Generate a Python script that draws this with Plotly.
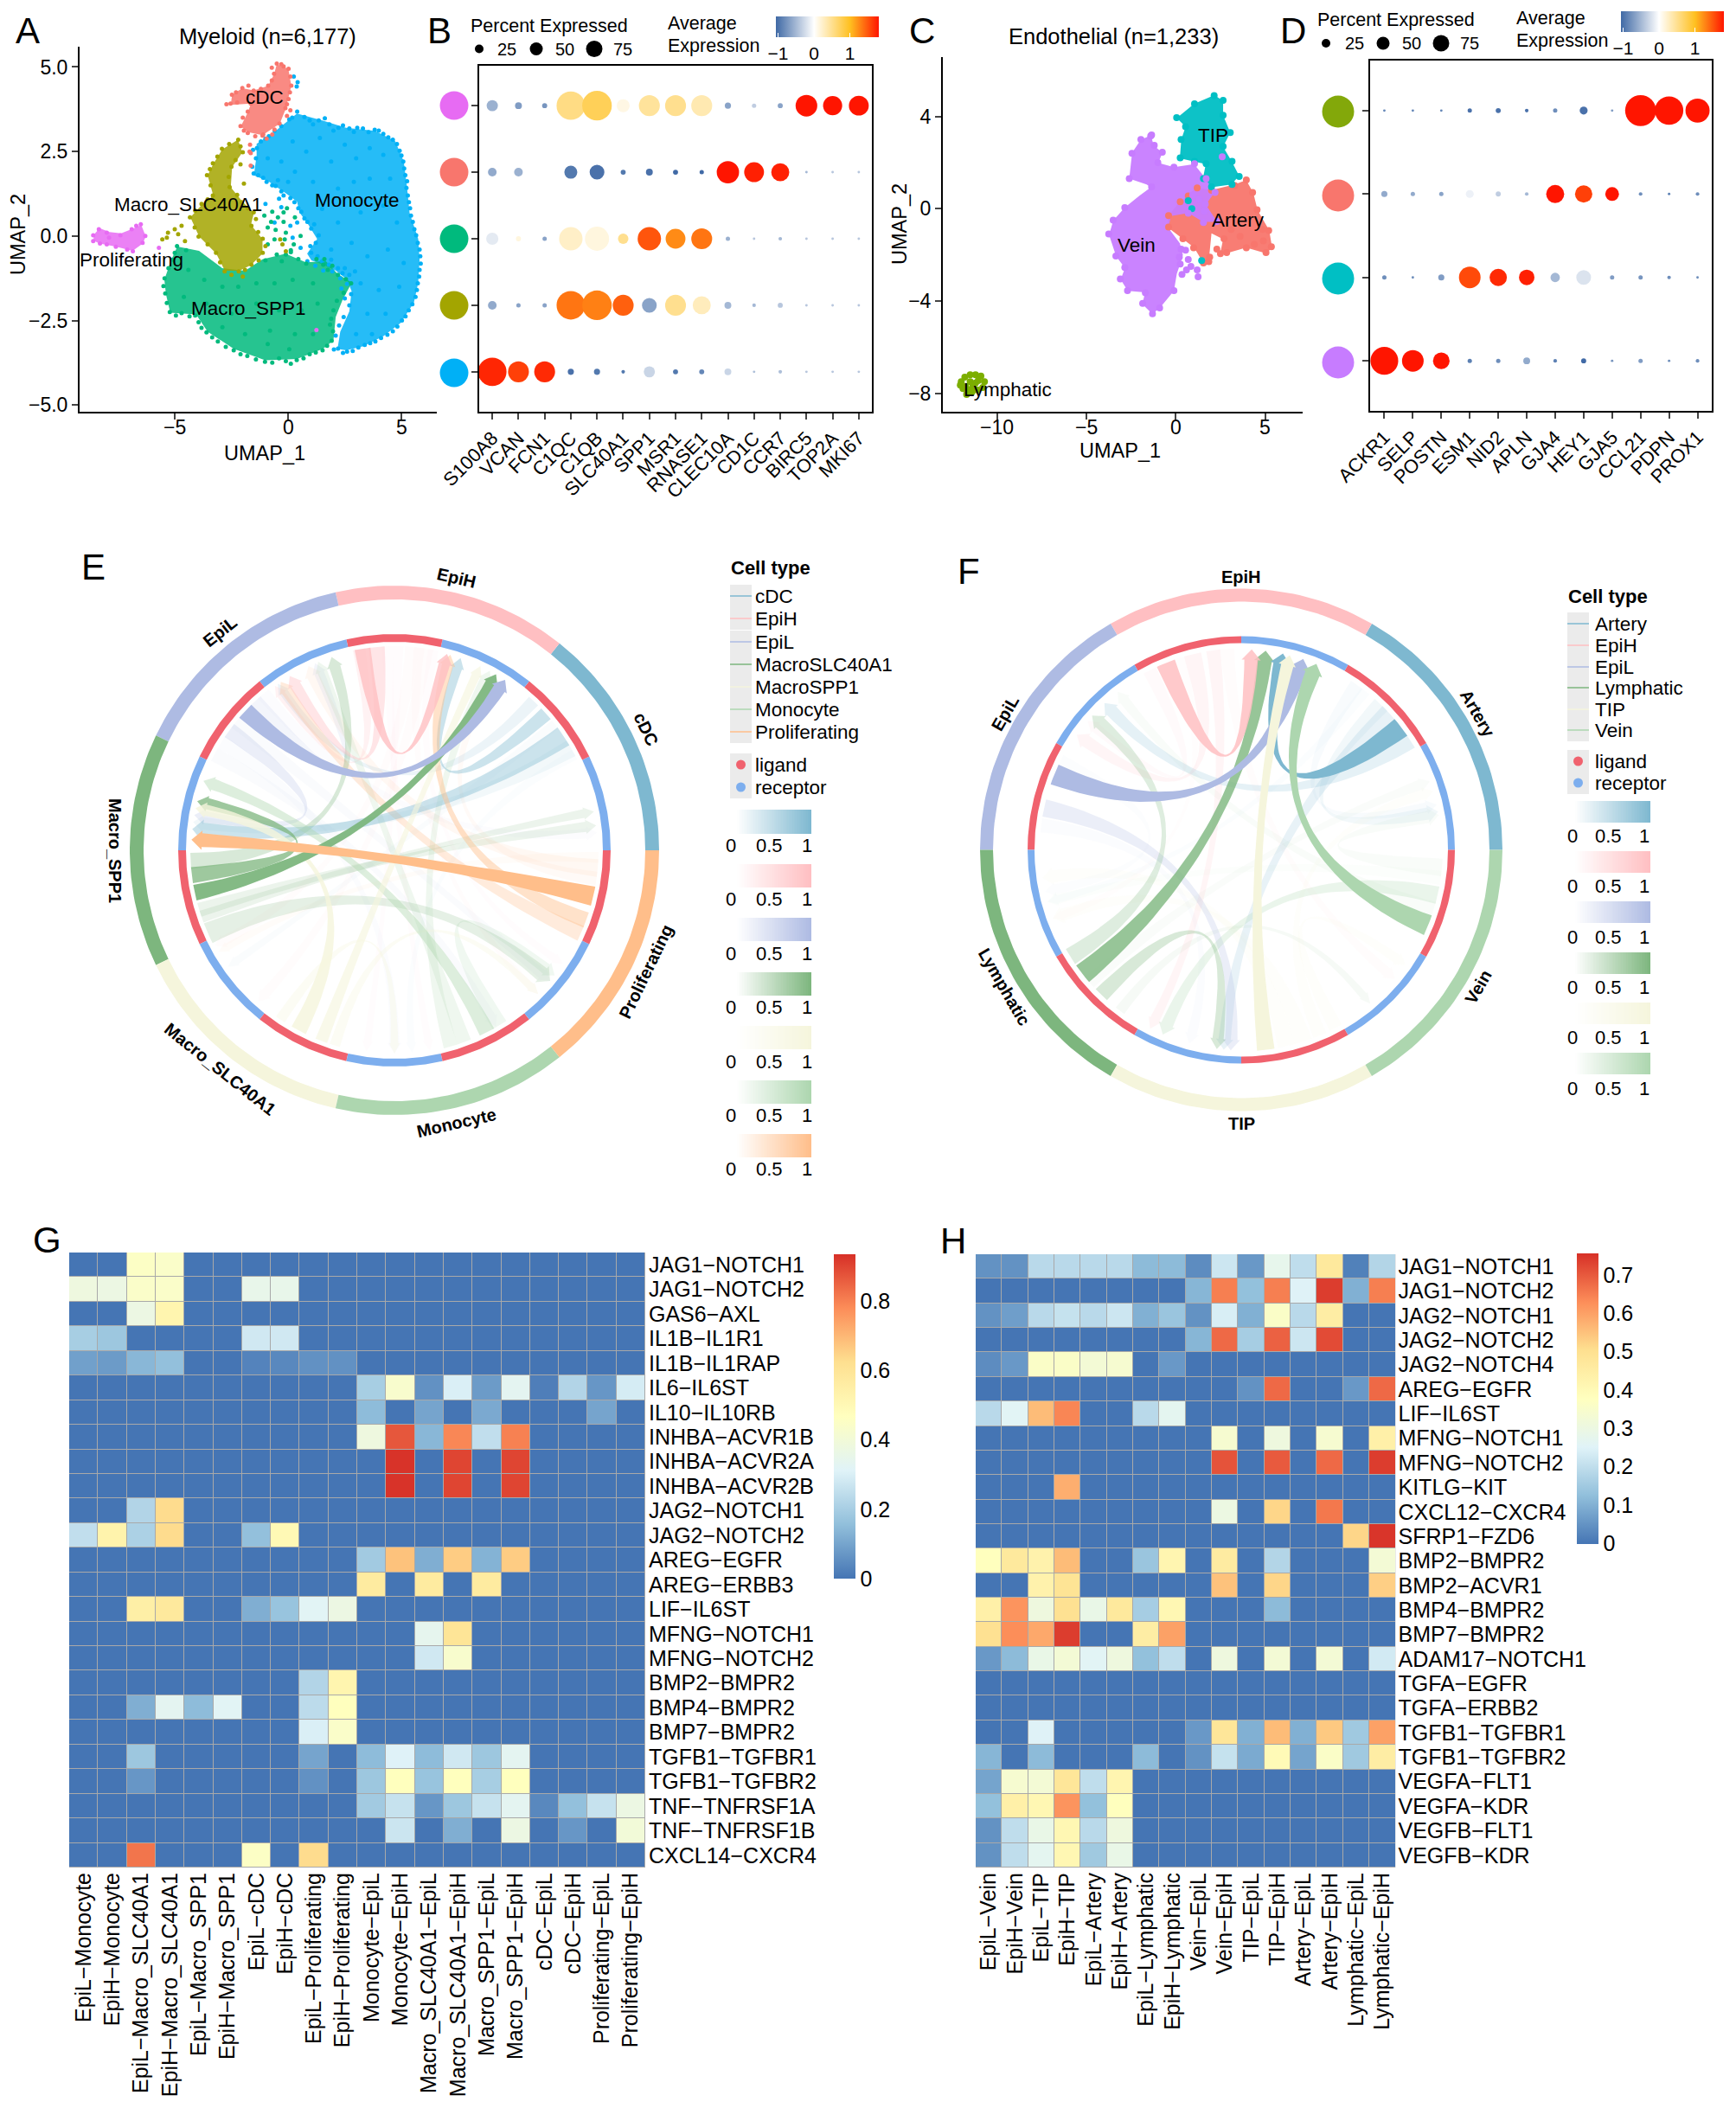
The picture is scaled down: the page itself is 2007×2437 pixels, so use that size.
import numpy as np
import plotly.graph_objects as go

W, H = 2007, 2437
FONT = "Liberation Sans"

# ---------- Panel A: Myeloid UMAP ----------
A_names = ["Monocyte", "Macro_SPP1", "Macro_SLC40A1", "cDC", "Proliferating"]
A_cols = {"Monocyte": "#00B0F6", "Macro_SPP1": "#00BA7D", "Macro_SLC40A1": "#A3A500", "cDC": "#F8766D", "Proliferating": "#E76BF3"}
A_outline = {
 "Monocyte": [(.39,3.62),(1.54,3.41),(2.56,3.2),(3.83,3.11),(4.72,2.81),(5.1,2.21),(5.23,1.53),(5.36,.68),(5.74,-.09),(5.8,-.69),(5.74,-1.38),(5.55,-1.97),(4.97,-2.57),(4.21,-2.96),(3.32,-3.26),(2.56,-3.38),(2.18,-3.34),(2.3,-2.83),(2.7,-2.23),(2.8,-1.63),(2.6,-1.29),(2.1,-1.02),(1.54,-.85),(1.03,-.72),(.84,-.52),(1.28,-.09),(.9,.33),(.52,.68),(.39,1.02),(-.11,1.27),(-.88,1.62),(-1.51,1.79),(-1.39,2.38),(-1.39,2.73),(-.62,3.07),(.01,3.41)],
 "Macro_SPP1": [(-4.89,-.31),(-3.93,-.44),(-2.91,-.95),(-1.9,-1.03),(-1.13,-.69),(-.11,-.52),(.78,-.78),(1.67,-.75),(2.18,-1.12),(2.81,-1.38),(2.4,-1.89),(2.1,-2.4),(2.0,-3.09),(1.54,-3.34),(.39,-3.64),(-1.01,-3.68),(-2.4,-3.34),(-3.55,-2.83),(-4.06,-2.32),(-5.2,-2.27),(-5.39,-1.72),(-5.46,-1.29),(-5.14,-.69)],
 "Macro_SLC40A1": [(-2.21,2.85),(-2.02,2.47),(-2.47,2.04),(-2.53,1.44),(-2.02,1.02),(-1.51,.68),(-1.64,.33),(-1.13,-.09),(-1.13,-.52),(-1.64,-.86),(-2.15,-1.03),(-2.79,-1.03),(-3.17,-.52),(-3.93,-.01),(-4.31,.55),(-3.8,.93),(-3.3,1.19),(-3.55,1.79),(-3.3,2.13),(-2.91,2.56)],
 "cDC": [(-.5,5.08),(.01,4.95),(.14,4.44),(.01,4.05),(-.11,3.75),(-.37,3.32),(-1.13,2.98),(-1.77,3.07),(-2.09,3.24),(-1.77,3.67),(-1.64,3.92),(-2.53,3.88),(-2.47,4.18),(-2.02,4.37),(-1.51,4.31),(-.88,4.44),(-.62,4.78)],
 "Proliferating": [(-8.58,.03),(-8.32,.23),(-7.88,.12),(-7.37,.08),(-6.86,.21),(-6.48,.33),(-6.28,-.01),(-6.41,-.22),(-6.86,-.44),(-7.62,-.31),(-8.32,-.22),(-8.58,-.14)],
}
A_points = {
 "Monocyte": [(.4,3.68),(.72,3.52),(1.1,3.3),(1.62,3.48),(2.0,3.12),(2.42,3.27),(2.9,3.08),(3.3,3.18),(3.82,3.14),(4.2,3.02),(4.62,2.85),(4.92,2.52),(5.08,2.2),(5.17,1.8),(5.22,1.42),(5.33,1.0),(5.42,.6),(5.57,.2),(5.72,-.2),(5.83,-.6),(5.8,-1.0),(5.72,-1.4),(5.62,-1.8),(5.32,-2.2),(5.02,-2.5),(4.62,-2.82),(4.1,-3.02),(3.62,-3.17),(3.1,-3.3),(2.6,-3.42),(2.2,-3.33),(-.6,3.12),(-1.0,2.88),(-1.38,2.6),(-1.42,2.3),(-1.52,1.85),(-1.1,1.72),(-.7,1.5),(-.3,1.32),(.1,1.12),(.45,.82),(.72,.52),(1.02,.22),(1.22,-.2),(1.02,-.5),(.85,-.75),(-.3,2.2),(.2,2.8),(.8,2.5),(1.4,2.9),(.3,1.9),(1.1,1.6),(1.9,2.2),(2.5,2.7),(3.0,2.3),(3.6,2.6),(4.2,2.4),(2.2,1.4),(2.9,1.6),(3.6,1.7),(4.5,1.7),(1.5,.8),(2.2,.4),(3.2,.7),(4.2,.9),(4.8,.4),(1.9,-.4),(2.8,-.2),(3.5,-.6),(4.4,-.4),(5.1,-.8),(3.2,-1.4),(4.0,-1.6),(4.9,-1.5),(3.5,-2.3),(4.3,-2.3),(3.0,-2.9),(3.7,-2.9),(-.9,2.3),(.0,1.6),(-1.0,.95),(-.3,.85),(.1,.3),(-.45,1.65),(.55,-.35),(.25,4.72),(.42,4.55),(.38,4.42),
   (.18,3.5),(.95,3.42),(1.35,3.42),(1.82,3.3),(2.22,3.2),(2.7,3.18),(3.05,3.2),(3.55,3.07),(4.0,3.12),(4.42,2.92),(4.8,2.72),(5.0,2.38),(5.12,2.0),(5.25,1.62),(5.28,1.2),(5.38,.82),(5.5,.42),(5.65,.02),(5.8,-.4),(5.85,-.82),(5.78,-1.2),(5.68,-1.6),(5.48,-2.02),(5.18,-2.38),(4.82,-2.68),(4.38,-2.92),(3.85,-3.12),(3.38,-3.22),(2.85,-3.4),(2.42,-3.46),(2.02,-3.36),(2.1,-2.95),(2.25,-2.65),(2.45,-2.4),(2.7,-2.05),(2.78,-1.72),(2.6,-1.42),(2.3,-1.25),(1.95,-1.05),(1.55,-1.02),(1.2,-.88),(.98,-.3),(1.35,.02),(1.15,.35),(.85,.42),(.58,.72),(.28,1.0),(-.2,1.2),(-.55,1.48),(-.95,1.6),(-1.32,1.8),(-1.58,2.05),(-1.55,2.55),(-1.2,2.8),(-.85,2.95),(-.3,3.25),(.05,3.45),(.2,-.05),(.4,.4),(-.4,1.1),(-.6,.4),
   (2.4,-1.1),(2.7,-1.15),(2.2,-.95),(1.8,-.85),(1.5,-.75),(2.5,-.95),(1.9,-.7),(1.3,-.6),(2.95,-1.05),(2.35,-1.55),(2.5,-1.85)],
 "Macro_SPP1": [(-4.9,-.3),(-4.5,-.42),(-5.1,-.7),(-5.45,-1.25),(-5.42,-1.7),(-5.22,-2.25),(-4.7,-2.28),(-4.1,-2.35),(-3.6,-2.85),(-3.1,-3.12),(-2.4,-3.38),(-1.8,-3.55),(-1.02,-3.72),(-.4,-3.62),(.38,-3.67),(.95,-3.5),(1.52,-3.38),(1.92,-3.1),(1.9,-2.45),(2.15,-1.92),(2.78,-1.4),(2.2,-1.15),(1.6,-.68),(.8,-.82),(-.1,-.55),(-.6,-.1),(-.9,.25),(-.45,.55),(-.05,.82),(.3,.55),(-.1,.1),(.25,-.25),(-.28,-.75),(.55,.0),(-1.05,.6),(-.7,.72),(-4.4,-1.0),(-3.7,-1.3),(-2.9,-1.5),(-2.2,-1.5),(-1.4,-1.4),(-.6,-1.4),(.2,-1.3),(1.1,-1.4),(-4.6,-1.8),(-3.6,-2.0),(-2.5,-2.3),(-1.4,-2.0),(-.4,-2.2),(.6,-2.2),(1.3,-2.0),(-2.9,-2.7),(-1.9,-2.9),(-.8,-2.8),(.3,-2.9),(1.1,-2.9),(-.9,-3.2),(.05,-3.35),(-.2,.42),(-.15,-.1),(1.55,-.85),(1.75,-1.0),
   (-5.0,-.5),(-5.28,-.95),(-5.5,-1.48),(-5.35,-1.98),(-4.95,-2.35),(-4.35,-2.38),(-3.95,-2.55),(-3.82,-2.72),(-3.35,-3.0),(-2.75,-3.28),(-2.1,-3.5),(-1.42,-3.65),(-.7,-3.75),(-.1,-3.7),(.12,-3.78),(.68,-3.62),(1.22,-3.45),(1.72,-3.25),(1.98,-2.82),(1.85,-2.62),(2.0,-2.2),(2.45,-1.68),(2.55,-1.28),(1.95,-.88),(1.25,-.68),(.45,-.68),(.12,-.48),(-.5,-.55),(-1.0,-.72),(-.55,.18),(-.2,.7),(.12,-.42),(-.75,.42),(-.9,-.25)],
 "Macro_SLC40A1": [(-2.2,2.85),(-2.0,2.48),(-2.5,2.05),(-2.58,1.45),(-2.05,1.0),(-1.52,.7),(-1.62,.3),(-1.12,-.08),(-1.12,-.5),(-1.62,-.85),(-2.18,-1.05),(-2.8,-1.05),(-3.18,-.5),(-3.95,-.02),(-4.33,.55),(-3.82,.95),(-3.32,1.2),(-3.58,1.8),(-3.32,2.15),(-2.92,2.58),(-5.0,.2),(-5.3,.1),(-5.55,-.1),(-4.7,.3),(-4.85,.05),(-5.35,-.05),(-.35,-.1),(-.25,-.25),(-.1,-.45),(-1.95,1.55),(-2.1,2.12),(-4.55,-.15),(-2.0,-1.2),
   (-2.1,2.65),(-2.32,2.25),(-2.62,1.75),(-2.25,1.22),(-1.78,.82),(-1.42,.5),(-1.32,.12),(-1.0,-.3),(-1.3,-.72),(-1.9,-1.0),(-2.5,-1.15),(-3.0,-.78),(-3.55,-.25),(-4.12,.25),(-4.1,.75),(-3.55,1.08),(-3.42,1.5),(-3.45,1.98),(-3.12,2.35),(-2.6,2.72)],
 "cDC": [(-.5,5.1),(-.2,5.02),(.02,4.95),(.14,4.45),(.02,4.05),(-.12,3.78),(-.38,3.33),(-1.13,2.97),(-1.78,3.05),(-2.1,3.25),(-1.78,3.68),(-1.65,3.92),(-2.72,3.9),(-2.54,3.92),(-2.48,4.18),(-2.02,4.38),(-1.52,4.3),(-.88,4.45),(-.62,4.8),(-1.7,2.5),(-1.68,2.7),(-1.65,2.08),(-1.65,2.45),(-1.1,3.0),(-.7,3.0),(.1,3.72),(-.05,3.9),
   (-.72,4.98),(-.3,5.08),(.1,4.72),(.08,4.25),(-.05,3.55),(-.6,3.15),(-.95,2.88),(-1.45,2.95),(-1.95,3.12),(-2.0,3.5),(-2.25,3.95),(-2.3,4.25),(-1.75,4.45),(-1.2,4.35),(-.72,4.6)],
 "Proliferating": [(-8.6,.02),(-8.35,.2),(-8.0,.1),(-7.9,-.05),(-7.4,.02),(-6.9,.2),(-6.5,.35),(-6.3,0),(-6.42,-.2),(-6.85,-.45),(-7.6,-.32),(-8.3,-.22),(-8.6,-.15),(-5.7,-.35),(1.25,-2.78),(-7.1,-.4),(-8.0,-.25),(-6.7,.3)],
}
A_label_xy = [(-1.03,4.1,"cDC"),(-4.43,.92,"Macro_SLC40A1"),(3.05,1.05,"Monocyte"),(-6.9,-.72,"Proliferating"),(-1.73,-2.15,"Macro_SPP1")]
A_xticks = [-5, 0, 5]

# ---------- Panel B ----------
B_genes = ["S100A8","VCAN","FCN1","C1QC","C1QB","SLC40A1","SPP1","MSR1","RNASE1","CLEC10A","CD1C","CCR7","BIRC5","TOP2A","MKI67"]
B_rows = ["Monocyte","Macro_SLC40A1","Macro_SPP1","cDC","Proliferating"]
B_pct = [
 [79,58,58,17,17,10,31,14,14,19,7,10,7,7,7],
 [24,12,12,79,82,58,41,58,50,19,10,14,7,7,7],
 [34,14,12,65,67,29,65,55,58,12,7,10,7,7,7],
 [24,24,0,36,41,14,19,14,12,62,55,50,7,7,7],
 [31,19,14,79,82,36,58,58,58,17,12,14,60,53,55]]
B_expr = [
 [1.72,1.6,1.7,-1,-.95,-.95,-.3,-.95,-.85,-.3,-.45,-.45,-.4,-.4,-.4],
 [-.6,-.65,-.65,1.35,1.3,1.45,-.65,.5,.3,-.5,-.5,-.4,-.4,-.4,-.4],
 [-.15,.15,-.65,.25,.15,.5,1.5,1.25,1.35,-.55,-.4,-.5,-.4,-.4,-.4],
 [-.6,-.55,0,-.95,-1.0,-.95,-1,-1.05,-1.05,1.8,1.75,1.75,-.5,-.4,-.4],
 [-.55,-.7,-.75,.55,.75,.12,.45,.5,.35,-.65,-.35,-.65,1.8,1.8,1.8]]

# ---------- Panel C ----------
C_names = ["Artery","TIP","Vein","Lymphatic"]
C_cols = {"Artery":"#F8766D","TIP":"#00BFC4","Vein":"#C77CFF","Lymphatic":"#7CAE00"}
C_outline = {
 "Artery":[(1.11,.93),(2.0,.81),(3.29,1.05),(3.94,1.24),(4.34,.68),(4.58,-.07),(5.23,-.94),(5.39,-1.69),(5.07,-1.94),(3.94,-1.69),(2.81,-1.94),(2.49,-1.94),(2.65,-1.32),(2.0,-1.07),(1.84,-2.32),(1.52,-2.32),(1.03,-1.69),(.39,-1.32),(-.42,-.82),(-.42,-.32),(.23,.31),(.71,.56)],
 "TIP":[(.06,3.93),(1.03,4.55),(2.16,4.92),(2.65,4.68),(2.65,4.05),(3.05,3.3),(2.65,2.68),(3.13,2.05),(3.54,1.43),(3.13,1.05),(2.0,.93),(1.52,1.3),(1.68,1.93),(1.03,2.05),(.23,2.18),(.31,2.99),(.55,3.55)],
 "Vein":[(-1.39,3.18),(-1.23,2.74),(-.74,2.43),(-.98,1.99),(-.1,1.8),(1.03,1.93),(1.68,1.3),(2.16,.68),(1.68,.18),(2.32,-.57),(1.52,-.57),(.71,-.19),(-.26,-.32),(-.42,-.82),(.23,-1.5),(.4,-2.0),(.2,-2.5),(.06,-2.82),(-.1,-3.56),(-.9,-4.31),(-1.31,-4.56),(-1.87,-4.13),(-1.71,-3.63),(-2.68,-3.56),(-3.08,-3.07),(-2.84,-2.57),(-3.33,-2.07),(-3.73,-1.13),(-3.49,-.51),(-2.84,.06),(-2.03,.56),(-1.39,.93),(-1.63,1.05),(-2.6,1.3),(-2.44,2.43),(-1.95,2.99)],
}
C_points = {
 "Artery":[(1.2,.9),(2.0,.8),(3.3,1.0),(3.95,1.25),(4.3,.7),(4.55,-.05),(5.2,-.95),(5.35,-1.65),(5.05,-1.9),(3.95,-1.7),(2.85,-1.9),(2.5,-1.95),(2.7,-1.3),(1.85,-2.3),(1.55,-2.35),(1.0,-1.7),(.4,-1.3),(-.4,-.8),(-.4,-.3),(.25,.3),(.7,.55),(4.85,-.9),(4.9,-1.4),(3.1,-.9),(3.6,-1.2),(2.3,-1.75),(1.9,-2.1),(4.4,-1.55)],
 "TIP":[(.05,3.95),(1.05,4.55),(2.15,4.9),(2.65,4.7),(2.65,4.05),(3.05,3.3),(2.65,2.7),(3.15,2.05),(3.55,1.4),(3.15,1.05),(2.0,.95),(1.55,1.3),(1.7,1.95),(1.05,2.05),(.25,2.2),(.3,3.0),(.55,3.55),(.7,.35),(.9,-.0),(1.45,-2.25)],
 "Vein":[(-1.35,3.2),(-1.2,2.75),(-.75,2.45),(-1.0,2.0),(-.1,1.8),(1.05,1.95),(1.7,1.3),(2.2,.7),(1.65,.2),(2.3,-.55),(1.55,-.6),(.7,-.2),(.3,-1.75),(.55,-1.8),(.2,-2.1),(.25,-2.4),(.7,-2.2),(.85,-2.5),(1.2,-2.65),(.35,-2.85),(.6,-2.65),(1.25,-2.95),(-.1,-3.55),(-.9,-4.3),(-1.3,-4.55),(-1.85,-4.1),(-1.7,-3.65),(-2.7,-3.55),(-3.1,-3.05),(-2.85,-2.55),(-3.35,-2.05),(-3.75,-1.1),(-3.5,-.5),(-2.85,.05),(-1.35,.95),(-2.6,1.3),(-2.45,2.4),(-1.95,3.0),(-1.4,3.15),(2.6,2.25),(1.3,.4),(1.6,-.1),(.95,.6)],
 "Lymphatic":[(-12.0,-7.5),(-11.8,-7.3),(-11.5,-7.2),(-11.2,-7.2),(-10.9,-7.25),(-10.7,-7.5),(-10.8,-7.75),(-11.1,-7.85),(-11.4,-7.95),(-11.7,-8.05),(-11.9,-7.8),(-12.05,-7.65),(-11.5,-7.5),(-11.2,-7.55),(-11.75,-7.7),(-11.6,-7.85),(-11.35,-7.7),(-11.05,-7.45)],
}
C_label_xy = [(2.09,3.16,"TIP"),(3.5,-.5,"Artery"),(-2.2,-1.6,"Vein"),(-9.4,-7.86,"Lymphatic")]
C_xticks = [-10, -5, 0, 5]

# ---------- Panel D ----------
D_genes = ["ACKR1","SELP","POSTN","ESM1","NID2","APLN","GJA4","HEY1","GJA5","CCL21","PDPN","PROX1"]
D_rows = ["Vein","TIP","Artery","Lymphatic"]
D_pct = [
 [77,60,46,12,12,19,10,14,7,12,7,10],
 [12,7,17,60,48,43,26,41,12,12,10,7],
 [17,12,12,22,14,10,50,48,38,10,7,10],
 [7,7,7,12,14,10,12,22,7,86,79,67]]
D_expr = [
 [1.8,1.8,1.8,-.9,-.8,-.6,-.9,-1.05,-.75,-.7,-.8,-.8],
 [-.8,-.8,-.7,1.55,1.7,1.75,-.5,-.2,-.7,-.75,-.8,-.8],
 [-.6,-.6,-.65,-.1,-.35,-.5,1.8,1.6,1.8,-.8,-.9,-.8],
 [-.85,-.85,-.85,-1,-1,-1,-.8,-1,-.7,1.8,1.8,1.8]]

# ---------- Panels E, F: chord diagrams ----------
E_sectors = ["cDC","EpiH","EpiL","Macro_SPP1","Macro_SLC40A1","Monocyte","Proliferating"]
E_cols = ["#7EB8D0","#FFBFC2","#AEBBE3","#7DB67E","#F5F5DC","#ADD6AF","#FFBE8A"]
E_legend = ["cDC","EpiH","EpiL","MacroSLC40A1","MacroSPP1","Monocyte","Proliferating"]
# ligand angle, receptor angle, width, strength
E_links = [
 (99,75,4.5,.8),(95,121,4.5,.4),(100,126,3.5,.2),(85,208,4,.05),(81,228,4,.05),(89,262,3,.04),(92,280,3,.04),(83,315,3,.05),(79,326,3,.04),
 (137,57,5,1),(144,170,4.5,.25),(133,113,4,.15),(148,270,4,.05),(152,300,4,.06),(141,320,4,.06),(130,5,4,.04),
 (42,71,4,.4),(34,174,6,.4),(30,172,5,.1),(47,125,3.5,.15),(38,215,3,.04),(28,275,3,.03),
 (347,177,5.5,1),(340,74,4.5,.45),(336,124,4.5,.3),(355,115,5,.1),(358,210,3,.05),(352,60,4,.07),
 (192,60,4.5,.95),(187,166,4.5,.75),(183,108,4.5,.3),(197,7,4,.15),(199,11,3.5,.15),(204,320,6,.2),
 (242,168,4.5,.8),(249,65,3.5,.6),(236,270,3,.3),(253,315,3,.3),
 (297,160,4.5,.42),(290,112,4,.2),(286,62,4,.2),(301,322,4.5,.18)]

F_sectors = ["Artery","EpiH","EpiL","Lymphatic","TIP","Vein"]
F_cols = ["#7EB8D0","#FFBFC2","#AEBBE3","#7DB67E","#F5F5DC","#ADD6AF"]
F_legend = ["Artery","EpiH","EpiL","Lymphatic","TIP","Vein"]
F_links = [
 (37.5,78,6,1),(33,133,5,.2),(43,265,5,.18),(52,195,3,.03),(55,13,4,.05),(46,11,5,.1),
 (112,87,5.5,.85),(104,145,5,.15),(98,243,4,.15),(94,320,4,.05),(117,140,4,.07),(108,200,3,.03),
 (158,72,6,1),(168,267,5,.25),(173,255,4,.05),(154,192,4,.03),
 (218,83,6,.8),(212,138,5,.25),(226,263,4.5,.3),(233,310,3,.07),(221,20,4,.04),
 (277,76,5,1),(283,188,5,.1),(288,200,5,.1),(293,17,4,.1),(298,325,4,.1),
 (338,68,6,1),(347,247,5,.25),(355,10,5,.07),(343,128,4,.07),(352,195,4,.03)]

# ---------- Panels G, H: heatmaps ----------
G_cols = ["EpiL−Monocyte","EpiH−Monocyte","EpiL−Macro_SLC40A1","EpiH−Macro_SLC40A1","EpiL−Macro_SPP1","EpiH−Macro_SPP1","EpiL−cDC","EpiH−cDC","EpiL−Proliferating","EpiH−Proliferating","Monocyte−EpiL","Monocyte−EpiH","Macro_SLC40A1−EpiL","Macro_SLC40A1−EpiH","Macro_SPP1−EpiL","Macro_SPP1−EpiH","cDC−EpiL","cDC−EpiH","Proliferating−EpiL","Proliferating−EpiH"]
G_rows = ["JAG1−NOTCH1","JAG1−NOTCH2","GAS6−AXL","IL1B−IL1R1","IL1B−IL1RAP","IL6−IL6ST","IL10−IL10RB","INHBA−ACVR1B","INHBA−ACVR2A","INHBA−ACVR2B","JAG2−NOTCH1","JAG2−NOTCH2","AREG−EGFR","AREG−ERBB3","LIF−IL6ST","MFNG−NOTCH1","MFNG−NOTCH2","BMP2−BMPR2","BMP4−BMPR2","BMP7−BMPR2","TGFB1−TGFBR1","TGFB1−TGFBR2","TNF−TNFRSF1A","TNF−TNFRSF1B","CXCL14−CXCR4"]
G_vals = [
 [0,0,.45,.44,0,0,0,0,0,0,0,0,0,0,0,0,0,0,0,0],
 [.38,.37,.44,.44,0,0,.35,.35,0,0,0,0,0,0,0,0,0,0,0,0],
 [0,0,.37,.52,0,0,0,0,0,0,0,0,0,0,0,0,0,0,0,0],
 [.2,.18,0,0,0,0,.28,.28,0,0,0,0,0,0,0,0,0,0,0,0],
 [.09,.08,.14,.16,0,0,.03,.04,.06,.06,0,0,0,0,0,0,0,0,0,0],
 [0,0,0,0,0,0,0,0,0,0,.2,.43,.06,.3,.08,.33,.02,.22,.07,.29],
 [0,0,0,0,0,0,0,0,0,0,.15,0,.1,0,.11,0,0,0,.1,0],
 [0,0,0,0,0,0,0,0,0,0,.38,.87,.14,.79,.25,.8,0,0,0,0],
 [0,0,0,0,0,0,0,0,0,0,0,.93,0,.9,0,.9,0,0,0,0],
 [0,0,0,0,0,0,0,0,0,0,0,.93,0,.9,0,.9,0,0,0,0],
 [0,0,.22,.63,0,0,0,0,0,0,0,0,0,0,0,0,0,0,0,0],
 [.25,.53,.21,.63,0,0,.16,.5,0,0,0,0,0,0,0,0,0,0,0,0],
 [0,0,0,0,0,0,0,0,0,0,.19,.68,.12,.66,.13,.66,0,0,0,0],
 [0,0,0,0,0,0,0,0,0,0,.57,0,.57,0,.57,0,0,0,0,0],
 [0,0,.55,.58,0,0,.12,.17,.32,.37,0,0,0,0,0,0,0,0,0,0],
 [0,0,0,0,0,0,0,0,0,0,0,0,.34,.6,0,0,0,0,0,0],
 [0,0,0,0,0,0,0,0,0,0,0,0,.28,.43,0,0,0,0,0,0],
 [0,0,0,0,0,0,0,0,.22,.52,0,0,0,0,0,0,0,0,0,0],
 [0,0,.12,.33,.15,.32,0,0,.24,.47,0,0,0,0,0,0,0,0,0,0],
 [0,0,0,0,0,0,0,0,.3,.44,0,0,0,0,0,0,0,0,0,0],
 [0,0,.18,0,0,0,0,0,.1,0,.15,.31,.15,.28,.18,.33,0,0,0,0],
 [0,0,.07,0,0,0,0,0,.06,0,.18,.47,.17,.47,.2,.47,0,0,0,0],
 [0,0,0,0,0,0,0,0,0,0,.19,.26,.07,.18,.26,.33,.04,.16,.26,.37],
 [0,0,0,0,0,0,0,0,0,0,0,.27,0,.12,0,.37,0,.07,0,.4],
 [0,0,.82,0,0,0,.45,0,.63,0,0,0,0,0,0,0,0,0,0,0]]

H_cols = ["EpiL−Vein","EpiH−Vein","EpiL−TIP","EpiH−TIP","EpiL−Artery","EpiH−Artery","EpiL−Lymphatic","EpiH−Lymphatic","Vein−EpiL","Vein−EpiH","TIP−EpiL","TIP−EpiH","Artery−EpiL","Artery−EpiH","Lymphatic−EpiL","Lymphatic−EpiH"]
H_rows = ["JAG1−NOTCH1","JAG1−NOTCH2","JAG2−NOTCH1","JAG2−NOTCH2","JAG2−NOTCH4","AREG−EGFR","LIF−IL6ST","MFNG−NOTCH1","MFNG−NOTCH2","KITLG−KIT","CXCL12−CXCR4","SFRP1−FZD6","BMP2−BMPR2","BMP2−ACVR1","BMP4−BMPR2","BMP7−BMPR2","ADAM17−NOTCH1","TGFA−EGFR","TGFA−ERBB2","TGFB1−TGFBR1","TGFB1−TGFBR2","VEGFA−FLT1","VEGFA−KDR","VEGFB−FLT1","VEGFB−KDR"]
H_vals = [
 [.05,.05,.19,.19,.19,.19,.12,.12,.04,.22,.06,.28,.2,.47,.02,.18],
 [0,0,0,0,0,0,0,0,.11,.65,.13,.65,.25,.74,.1,.65],
 [.05,.07,.19,.21,.19,.22,.1,.14,.05,.24,.1,.36,.19,.45,0,0],
 [0,0,0,0,0,0,0,0,.11,.68,.16,.69,.22,.72,0,0],
 [.04,.06,.36,.36,.33,.34,0,.06,0,0,0,0,0,0,0,0],
 [0,0,0,0,0,0,0,0,0,0,.05,.68,0,0,.06,.68],
 [.19,.26,.56,.64,0,0,.19,.27,0,0,0,0,0,0,0,0],
 [0,0,0,0,0,0,0,0,0,.34,0,.31,0,.34,0,.44],
 [0,0,0,0,0,0,0,0,0,.71,0,.7,0,.68,0,.74],
 [0,0,0,.58,0,0,0,0,0,0,0,0,0,0,0,0],
 [0,0,0,0,0,0,0,0,0,.3,0,.52,0,.66,0,0],
 [0,0,0,0,0,0,0,0,0,0,0,0,0,0,.52,.75],
 [.38,.47,.43,.56,0,0,.14,.42,0,.46,0,.18,0,0,0,.33],
 [0,0,.43,.49,0,0,0,0,0,.55,0,.52,0,0,0,.53],
 [.44,.62,.31,.5,.29,.47,.16,.41,0,0,0,.12,0,0,0,0],
 [.5,.63,.59,.74,0,0,.45,.6,0,0,0,0,0,0,0,0],
 [.06,.12,.29,.33,.26,.31,.13,.2,0,.31,0,.33,0,.33,0,.23],
 [0]*16,
 [0]*16,
 [0,0,.25,0,0,0,0,0,.06,.48,.1,.56,.1,.54,.15,.6],
 [.11,0,.12,0,0,0,.12,0,.05,.21,.09,.4,.08,.36,.15,.45],
 [.08,.34,.33,.48,.2,.42,0,0,0,0,0,0,0,0,0,0],
 [.13,.44,.41,.62,.13,.38,0,0,0,0,0,0,0,0,0,0],
 [.05,.2,.29,.41,.19,.31,0,0,0,0,0,0,0,0,0,0],
 [.05,.2,.27,.41,.15,.29,0,0,0,0,0,0,0,0,0,0]]

# ---------- helpers ----------
def dx(a, b): return [a / W, b / W]
def dy(top, bottom): return [1 - bottom / H, 1 - top / H]

fig = go.Figure()
annots, shapes = [], []

def txt(x, y, s, size=22, anchor="center", bold=False, angle=0, ref=("x9", "y9")):
    annots.append(dict(x=x, y=y, xref=ref[0], yref=ref[1], text=f"<b>{s}</b>" if bold else s, showarrow=False,
                       font=dict(family=FONT, size=size, color="black"), xanchor=anchor, yanchor="middle",
                       textangle=angle, align="left"))

RDYLBU = [[0, "#4575B4"], [1/6, "#91BFDB"], [2/6, "#E0F3F8"], [3/6, "#FFFFBF"], [4/6, "#FEE090"], [5/6, "#FC8D59"], [1, "#D73027"]]
DOTSCALE = [[0, "#3F69A5"], [.3706, "#FFFFFF"], [.7203, "#FFC020"], [1, "#FF1500"]]

def rgba(hexcol, a):
    h = hexcol.lstrip("#")
    return f"rgba({int(h[:2],16)},{int(h[2:4],16)},{int(h[4:],16)},{a})"

def umap(outline, points, cols, order, size, xa, ya, fill_alpha):
    for n in order:
        if n in outline:
            px, py = zip(*outline[n])
            fig.add_trace(go.Scatter(x=list(px)+[px[0]], y=list(py)+[py[0]], mode="lines", fill="toself",
                                     fillcolor=rgba(cols[n], fill_alpha), line=dict(width=0), xaxis=xa, yaxis=ya,
                                     hoverinfo="skip", showlegend=False))
    for n in order:
        px, py = zip(*points[n])
        fig.add_trace(go.Scatter(x=px, y=py, mode="markers", marker=dict(size=size, color=cols[n], opacity=1), xaxis=xa, yaxis=ya,
                                 name=n, showlegend=False))

umap(A_outline, A_points, A_cols, A_names, 5, "x", "y", .85)
umap(C_outline, C_points, C_cols, C_names, 8, "x3", "y3", .95)
for x, y, s in A_label_xy: txt(x, y, s, 22.5, ref=("x", "y"))
for x, y, s in C_label_xy: txt(x, y, s, 22.5, ref=("x3", "y3"))
for v in A_xticks: txt(v, 494, str(v).replace("-", "−"), 23, ref=("x", "y9"))
for v in C_xticks: txt(v, 494, str(v).replace("-", "−"), 23, ref=("x3", "y9"))

def dotplot(genes, rows, pct, expr, xa, ya, cbx, cby, cblen):
    xs, ys, ss, cs = [], [], [], []
    for i, r in enumerate(rows):
        for j, g in enumerate(genes):
            if pct[i][j] > 0:
                xs.append(g); ys.append(r); ss.append(pct[i][j] / 2.4); cs.append(expr[i][j])
    fig.add_trace(go.Scatter(x=xs, y=ys, mode="markers", xaxis=xa, yaxis=ya, showlegend=False,
        marker=dict(size=ss, sizemode="diameter", opacity=1, color=cs, colorscale=DOTSCALE, cmin=-1.06, cmax=1.8, line=dict(width=0),
                    colorbar=dict(orientation="h", x=cbx/W, xanchor="left", y=1-cby/H, yanchor="top", lenmode="pixels", len=cblen,
                                  thickness=24, thicknessmode="pixels", xpad=0, ypad=0, tickvals=[-1, 0, 1], ticktext=["−1", "0", "1"],
                                  ticks="inside", ticklen=5, tickcolor="white", outlinewidth=0,
                                  tickfont=dict(family=FONT, size=21)))))

dotplot(B_genes, B_rows, B_pct, B_expr, "x2", "y2", 897, 19, 119)
dotplot(D_genes, D_rows, D_pct, D_expr, "x4", "y4", 1874, 13, 119)

def ov_markers(x, y, size, color, name=None):
    fig.add_trace(go.Scatter(x=x, y=y, mode="markers", xaxis="x9", yaxis="y9", showlegend=False, hoverinfo="skip",
                             marker=dict(size=size, color=color, opacity=1, line=dict(width=0))))

ov_markers([525]*5, [122, 199, 276, 353, 431], 33, ["#E76BF3", "#F8766D", "#00BA7D", "#A3A500", "#00B0F6"])
ov_markers([1547]*4, [129, 226, 322, 419], 37, ["#83A80A", "#F8766D", "#00BFC4", "#C77CFF"])
ov_markers([554, 620, 687], [56.5]*3, [10, 15, 19], "black")
ov_markers([1533, 1599, 1666], [50]*3, [10, 15, 19], "black")
txt(542, 30, "Percent Expressed", 21.5, "left")
for x, s in [(586, "25"), (653, "50"), (720, "75")]: txt(x, 57, s, 20)
txt(770, 27, "Average", 21.5, "left"); txt(770, 53, "Expression", 21.5, "left")
txt(1521, 23, "Percent Expressed", 21.5, "left")
for x, s in [(1566, "25"), (1632, "50"), (1699, "75")]: txt(x, 50, s, 20)
txt(1751, 21, "Average", 21.5, "left"); txt(1751, 47, "Expression", 21.5, "left")

def arc(a0, a1, r0, r1):
    t = np.radians(np.linspace(a0, a1, 40))
    return (np.r_[r1*np.cos(t), r0*np.cos(t[::-1])], np.r_[r1*np.sin(t), r0*np.sin(t[::-1])])

def bez(a0, r0, a1, r1):
    t = np.linspace(0, 1, 40)[:, None]
    p0 = r0*np.array([np.cos(np.radians(a0)), np.sin(np.radians(a0))])
    p1 = r1*np.array([np.cos(np.radians(a1)), np.sin(np.radians(a1))])
    return (1-t)**2*p0 + t**2*p1

def chord(sectors, cols, links, xa, ya, Ro, Ri, rr, rl):
    n = len(sectors); step = 360/n
    lnk = sorted(links, key=lambda l: l[3])
    for L, R, w, s in lnk:
        col = cols[int(L // step)]
        R2 = L + ((R - L) % 360)
        wr = w*.75
        rb = rl - 13; rt = rl - 1
        a = np.radians(np.linspace(L-w/2, L+w/2, 8))
        pts = [np.c_[rl*np.cos(a), rl*np.sin(a)]]
        pts.append(bez(L+w/2, rl, R2-wr/2, rb))
        hd = np.radians([R2-wr*.7, R2, R2+wr*.7])
        pts.append(np.c_[np.array([rb, rt, rb])*np.cos(hd), np.array([rb, rt, rb])*np.sin(hd)])
        pts.append(bez(R2+wr/2, rb, L-w/2, rl))
        P = np.vstack(pts)
        fig.add_trace(go.Scatter(x=P[:, 0], y=P[:, 1], mode="lines", fill="toself", fillcolor=rgba(col, s), line=dict(width=0),
                                 xaxis=xa, yaxis=ya, hoverinfo="skip", showlegend=False))
    for i in range(n):
        ax, ay = arc(i*step, (i+1)*step, Ro[0], Ro[1])
        fig.add_trace(go.Scatter(x=np.r_[ax, ax[0]], y=np.r_[ay, ay[0]], mode="lines", fill="toself", fillcolor=cols[i], line=dict(width=0),
                                 xaxis=xa, yaxis=ya, hoverinfo="skip", showlegend=False))
        for k, c in enumerate(["#7DAEEE", "#F0626E"]):
            ax, ay = arc(i*step+k*step/2, i*step+(k+1)*step/2, Ri[0], Ri[1])
            fig.add_trace(go.Scatter(x=np.r_[ax, ax[0]], y=np.r_[ay, ay[0]], mode="lines", fill="toself", fillcolor=c, line=dict(width=0),
                                     xaxis=xa, yaxis=ya, hoverinfo="skip", showlegend=False))
        mid = (i+.5)*step
        ang = 90 if abs(mid-180) < 1 else (90 - mid if mid < 180 else 270 - mid)
        txt(rr*np.cos(np.radians(mid)), rr*np.sin(np.radians(mid)), sectors[i], 20, bold=True, angle=ang, ref=(xa, ya))

chord(E_sectors, E_cols, E_links, "x5", "y5", (290, 306), (241, 250), 323, 236)
chord(F_sectors, F_cols, F_links, "x6", "y6", (287, 302), (239, 247), 316, 233)

def chord_legend(title_xy, tx, key_x, items, cols, item_y, lig_y, bars, bx, tick_x, tick_ys):
    txt(title_xy[0], title_xy[1], "Cell type", 22, "left", True)
    for s, c, y in zip(items, cols, item_y):
        txt(tx, y, s, 22.5, "left")
        shapes.append(dict(type="rect", xref="x9", yref="y9", x0=key_x, x1=key_x+25, y0=y-13, y1=y+13, fillcolor="#EBEBEB", line=dict(width=0), layer="below"))
        fig.add_trace(go.Scatter(x=[key_x, key_x+25], y=[y, y], mode="lines", line=dict(color=c, width=1.5), xaxis="x9", yaxis="y9", showlegend=False, hoverinfo="skip"))
    for s, c, y in zip(["ligand", "receptor"], ["#F0626E", "#7DAEEE"], lig_y):
        txt(tx, y, s, 22.5, "left")
        shapes.append(dict(type="rect", xref="x9", yref="y9", x0=key_x, x1=key_x+25, y0=y-13, y1=y+13, fillcolor="#EBEBEB", line=dict(width=0), layer="below"))
        ov_markers([key_x+12.5], [y], 11, c)
    for (y0, y1), c, ty in zip(bars, cols, tick_ys):
        nb = 60
        ddx = (bx[1]-bx[0])/nb
        fig.add_trace(go.Heatmap(x0=bx[0]+ddx/2, dx=ddx, y0=(y0+y1)/2, dy=y1-y0, z=[list(np.linspace(0, 1, nb))], colorscale=[[0, "#FFFFFF"], [1, c]], zmin=0, zmax=1,
                                 showscale=False, xaxis="x9", yaxis="y9", hoverinfo="skip"))
        for tv, s in zip(tick_x, ["0", "0.5", "1"]):
            txt(tv, ty, s, 22)

chord_legend((843, 656), 871, 844, E_legend, E_cols, [689, 715, 742, 768, 794, 820, 846], [884, 910],
             [(936, 964), (999, 1026), (1061, 1088), (1124, 1151), (1186, 1213), (1249, 1276), (1311, 1338)], (851, 938), (845, 889, 933),
             [977, 1039, 1102, 1164, 1227, 1289, 1351])
chord_legend((1811, 689), 1842, 1812, F_legend, F_cols, [721, 746, 771, 795, 820, 844], [880, 905],
             [(926, 951), (984, 1009), (1042, 1067), (1101, 1126), (1159, 1184), (1217, 1242)], (1820, 1908), (1818, 1859, 1901),
             [966, 1024, 1083, 1141, 1199, 1258])

def heat(cols, rows, vals, xa, ya, zmax, ticks, cbx, cbtop, cblen):
    fig.add_trace(go.Heatmap(x=cols, y=rows, z=vals, colorscale=RDYLBU, zmin=0, zmax=zmax, xgap=1, ygap=1, xaxis=xa, yaxis=ya,
                             colorbar=dict(x=cbx/W, xanchor="left", y=1-cbtop/H, yanchor="top", lenmode="pixels", len=cblen, thickness=25,
                                           thicknessmode="pixels", xpad=0, ypad=0, outlinewidth=0, ticks="", tickvals=ticks,
                                           tickfont=dict(family=FONT, size=25))))
    shapes.append(dict(type="rect", xref=xa, yref=ya, x0=-.5, x1=len(cols)-.5, y0=-.5, y1=len(rows)-.5, fillcolor="#A9A9A9", line=dict(width=0), layer="below"))

heat(G_cols, G_rows, G_vals, "x7", "y7", .935, [0, .2, .4, .6, .8], 964, 1450, 375)
heat(H_cols, H_rows, H_vals, "x8", "y8", .757, [0, .1, .2, .3, .4, .5, .6, .7], 1823, 1448.5, 336)

for x, y, s in [(32, 35, "A"), (108, 655, "E"), (508, 35, "B"), (1066, 35, "C"), (1495, 35, "D"), (1120, 660, "F"), (54, 1433, "G"), (1102, 1434, "H")]:
    txt(x, y, s, 42)
txt(309, 41.5, "Myeloid (n=6,177)", 25.5)
txt(1287, 41.5, "Endothelial (n=1,233)", 25.5)
txt(306, 524, "UMAP_1", 23.5); txt(21, 271, "UMAP_2", 23.5, angle=-90)
txt(1295, 521, "UMAP_1", 23.5); txt(1040, 259, "UMAP_2", 23.5, angle=-90)

tickf = dict(family=FONT, size=23, color="black")
L = dict(
    width=W, height=H, margin=dict(l=0, r=0, t=0, b=0, autoexpand=False), paper_bgcolor="white", plot_bgcolor="rgba(0,0,0,0)",
    font=dict(family=FONT, color="black"), showlegend=False, annotations=annots, shapes=shapes,
    xaxis=dict(domain=dx(92, 505), range=[-9.2, 6.56], anchor="y", showgrid=False, zeroline=False, showline=True, linecolor="black", linewidth=2,
               ticks="outside", ticklen=7, tickwidth=2, tickvals=A_xticks, showticklabels=False),
    yaxis=dict(domain=dy(54, 476), range=[-5.2, 5.6], anchor="x", showgrid=False, zeroline=False, showline=True, linecolor="black", linewidth=2,
               ticks="outside", ticklen=7, tickwidth=2, tickvals=[-5, -2.5, 0, 2.5, 5], tickformat=".1f", tickfont=tickf),
    xaxis2=dict(domain=dx(554, 1008), type="category", categoryorder="array", categoryarray=B_genes, range=[-.5, 14.5], anchor="y2", showgrid=False,
                showline=True, mirror=True, linecolor="black", linewidth=2, ticks="outside", ticklen=7, tickwidth=2, tickangle=-45,
                tickvals=B_genes, tickfont=dict(family=FONT, size=22)),
    yaxis2=dict(domain=dy(76, 476), type="category", categoryorder="array", categoryarray=B_rows, range=[-.6, 4.6], anchor="x2", showgrid=False,
                showline=True, mirror=True, linecolor="black", linewidth=2, ticks="outside", ticklen=7, tickwidth=2, showticklabels=False, tickvals=B_rows),
    xaxis3=dict(domain=dx(1090, 1506), range=[-13.03, 7.1], anchor="y3", showgrid=False, zeroline=False, showline=True, linecolor="black", linewidth=2,
                ticks="outside", ticklen=7, tickwidth=2, tickvals=C_xticks, showticklabels=False),
    yaxis3=dict(domain=dy(66, 476), range=[-8.8, 6.57], anchor="x3", showgrid=False, zeroline=False, showline=True, linecolor="black", linewidth=2,
                ticks="outside", ticklen=7, tickwidth=2, tickvals=[-8, -4, 0, 4], tickfont=tickf),
    xaxis4=dict(domain=dx(1584, 1979), type="category", categoryorder="array", categoryarray=D_genes, range=[-.5, 11.5], anchor="y4", showgrid=False,
                showline=True, mirror=True, linecolor="black", linewidth=2, ticks="outside", ticklen=7, tickwidth=2, tickangle=-45,
                tickvals=D_genes, tickfont=dict(family=FONT, size=22)),
    yaxis4=dict(domain=dy(70, 475), type="category", categoryorder="array", categoryarray=D_rows, range=[-.6, 3.6], anchor="x4", showgrid=False,
                showline=True, mirror=True, linecolor="black", linewidth=2, ticks="outside", ticklen=7, tickwidth=2, showticklabels=False, tickvals=D_rows),
    xaxis5=dict(domain=dx(456-400, 456+400), range=[-400, 400], anchor="y5", visible=False),
    yaxis5=dict(domain=dy(983-350, 983+350), range=[-350, 350], anchor="x5", visible=False),
    xaxis6=dict(domain=dx(1435-350, 1435+350), range=[-350, 350], anchor="y6", visible=False),
    yaxis6=dict(domain=dy(982.5-345, 982.5+345), range=[-345, 345], anchor="x6", visible=False),
    xaxis7=dict(domain=dx(80, 746), type="category", categoryorder="array", categoryarray=G_cols, range=[-.5, 19.5], anchor="y7", showgrid=False, zeroline=False,
                tickangle=-90, tickvals=G_cols, ticks="", tickfont=dict(family=FONT, size=25)),
    yaxis7=dict(domain=dy(1448, 2159), type="category", categoryorder="array", categoryarray=G_rows, range=[24.5, -.5], anchor="x7", side="right", showgrid=False, zeroline=False,
                tickvals=G_rows, ticks="", ticklabelstandoff=3, tickfont=dict(family=FONT, size=25)),
    xaxis8=dict(domain=dx(1128, 1613.5), type="category", categoryorder="array", categoryarray=H_cols, range=[-.5, 15.5], anchor="y8", showgrid=False, zeroline=False,
                tickangle=-90, tickvals=H_cols, ticks="", tickfont=dict(family=FONT, size=25)),
    yaxis8=dict(domain=dy(1450, 2159), type="category", categoryorder="array", categoryarray=H_rows, range=[24.5, -.5], anchor="x8", side="right", showgrid=False, zeroline=False,
                tickvals=H_rows, ticks="", ticklabelstandoff=2, tickfont=dict(family=FONT, size=25)),
    xaxis9=dict(domain=[0, 1], range=[0, W], anchor="y9", visible=False),
    yaxis9=dict(domain=[0, 1], range=[H, 0], anchor="x9", visible=False),
)
fig.update_layout(**L)
fig.write_html("out.html", post_script="document.body.style.margin='0';", config={"displayModeBar": False})
